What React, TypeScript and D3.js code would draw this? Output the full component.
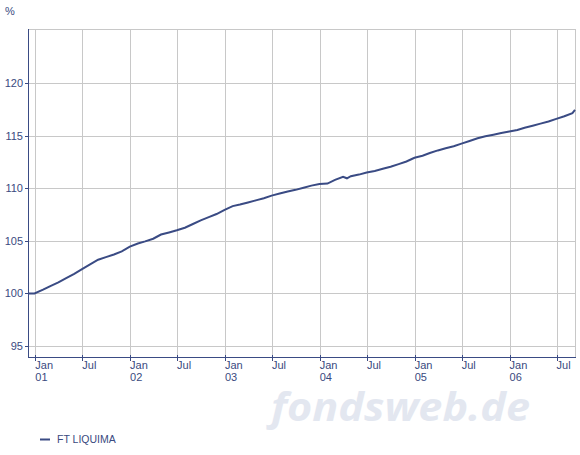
import React from "react";
import * as d3 from "d3";

const dates: string[] = [
  "2000-12-04", "2000-12-29", "2001-01-31", "2001-02-28", "2001-03-31", "2001-04-30", "2001-05-31",
  "2001-06-30", "2001-07-31", "2001-08-31", "2001-09-30", "2001-10-31", "2001-11-30", "2001-12-31",
  "2002-01-31", "2002-02-28", "2002-03-31", "2002-04-30", "2002-05-31", "2002-06-30", "2002-07-31",
  "2002-08-31", "2002-09-30", "2002-10-31", "2002-11-30", "2002-12-31", "2003-01-31", "2003-02-28",
  "2003-03-31", "2003-04-30", "2003-05-31", "2003-06-30", "2003-07-31", "2003-08-31", "2003-09-30",
  "2003-10-31", "2003-11-30", "2003-12-31", "2004-01-31", "2004-02-29", "2004-03-31", "2004-04-15",
  "2004-04-30", "2004-05-31", "2004-06-30", "2004-07-31", "2004-08-31", "2004-09-30", "2004-10-31",
  "2004-11-30", "2004-12-31", "2005-01-31", "2005-02-28", "2005-03-31", "2005-04-30", "2005-05-31",
  "2005-06-30", "2005-07-31", "2005-08-31", "2005-09-30", "2005-10-31", "2005-11-30", "2005-12-31",
  "2006-01-31", "2006-02-28", "2006-03-31", "2006-04-30", "2006-05-31", "2006-06-30", "2006-07-31",
  "2006-08-31", "2006-09-10",
];

const values: number[] = [
  100.0, 100.0, 100.35, 100.7, 101.05, 101.45, 101.85,
  102.3, 102.75, 103.2, 103.45, 103.7, 104.0, 104.45,
  104.75, 104.95, 105.2, 105.6, 105.8, 106.0, 106.25,
  106.6, 106.95, 107.25, 107.55, 107.95, 108.3, 108.45,
  108.65, 108.85, 109.05, 109.3, 109.5, 109.7, 109.85,
  110.05, 110.25, 110.4, 110.45, 110.8, 111.1, 110.95,
  111.15, 111.3, 111.5, 111.65, 111.85, 112.05, 112.3,
  112.55, 112.9, 113.1, 113.35, 113.6, 113.8, 114.0,
  114.25, 114.5, 114.75, 114.95, 115.1, 115.25, 115.4,
  115.55, 115.75, 115.95, 116.15, 116.35, 116.6, 116.85,
  117.15, 117.45,
];

const yTicks: number[] = [95, 100, 105, 110, 115, 120];
const xTickDates: string[] = [
  "2001-01-01", "2001-07-01", "2002-01-01", "2002-07-01", "2003-01-01", "2003-07-01",
  "2004-01-01", "2004-07-01", "2005-01-01", "2005-07-01", "2006-01-01", "2006-07-01",
];
const seriesName = "FT LIQUIMA";
const yUnit = "%";
const watermark = "fondsweb.de";

const W = 580;
const H = 455;
const L = 28, R = 575, T = 29, B = 357;
const NAVY = "#3a4b84";
const TEXT = "#3a4a80";
const GRID = "#c8c8c8";
const FONT = "'Liberation Sans', Arial, sans-serif";

export default function App() {
  const parse = d3.timeParse("%Y-%m-%d");
  const data = dates.map((d, i) => ({ date: parse(d) as Date, value: values[i] }));
  const x = d3.scaleTime().domain([parse("2000-12-04") as Date, parse("2006-09-10") as Date]).range([L, R]);
  const y = d3.scaleLinear().domain([93.95, 125.15]).range([B, T]);
  const line = d3.line<{ date: Date; value: number }>().x((d) => x(d.date)).y((d) => y(d.value));
  const monthFmt = d3.timeFormat("%b");
  const yearFmt = d3.timeFormat("%y");
  const xt = xTickDates.map((d) => parse(d) as Date);

  return (
    <svg width={W} height={H} style={{ position: "absolute", left: 0, top: 0, background: "#fff" }} fontFamily={FONT}>
      <text x={271} y={421} fontFamily="'Open Sans', sans-serif" fontWeight="bold" fontStyle="italic" fontSize={40} fill="#e3e7f0" textLength={259} lengthAdjust="spacingAndGlyphs">
        {watermark}
      </text>
      {/* grid */}
      {yTicks.map((t) => (
        <line key={"gy" + t} x1={L} x2={R} y1={Math.round(y(t)) + 0.5} y2={Math.round(y(t)) + 0.5} stroke={GRID} strokeWidth={1} />
      ))}
      {xt.map((d, i) => (
        <line key={"gx" + i} x1={Math.round(x(d)) + 0.5} x2={Math.round(x(d)) + 0.5} y1={T} y2={B} stroke={GRID} strokeWidth={1} />
      ))}
      <line x1={L} x2={R + 0.5} y1={T + 0.5} y2={T + 0.5} stroke={GRID} />
      <line x1={R + 0.5} x2={R + 0.5} y1={T} y2={B} stroke={GRID} />
      {/* series */}
      <path d={line(data) || ""} fill="none" stroke={NAVY} strokeWidth={2} />
      {/* axes */}
      <line x1={L + 0.5} x2={L + 0.5} y1={T} y2={B + 1} stroke={NAVY} strokeWidth={1} />
      <line x1={L} x2={R + 1} y1={B + 0.5} y2={B + 0.5} stroke={NAVY} strokeWidth={1} />
      {yTicks.map((t) => (
        <g key={"ty" + t}>
          <line x1={L - 3} x2={L} y1={Math.round(y(t)) + 0.5} y2={Math.round(y(t)) + 0.5} stroke={NAVY} />
          <text x={L - 5} y={y(t) + 4} textAnchor="end" fontSize={11} fill={TEXT}>{t}</text>
        </g>
      ))}
      {xt.map((d, i) => (
        <g key={"tx" + i}>
          <line x1={Math.round(x(d)) + 0.5} x2={Math.round(x(d)) + 0.5} y1={B - 2} y2={B + 4} stroke={NAVY} />
          <text x={x(d)} y={369} fontSize={11} fill={TEXT}>{monthFmt(d)}</text>
          {d.getMonth() === 0 && (
            <text x={x(d)} y={381} fontSize={11} fill={TEXT}>{yearFmt(d)}</text>
          )}
        </g>
      ))}
      <text x={5} y={15} fontSize={11} fill={TEXT}>{yUnit}</text>
      {/* legend */}
      <line x1={40} x2={50} y1={439.5} y2={439.5} stroke={NAVY} strokeWidth={2} />
      <text x={57} y={443} fontSize={10.5} fill={TEXT}>{seriesName}</text>
    </svg>
  );
}
